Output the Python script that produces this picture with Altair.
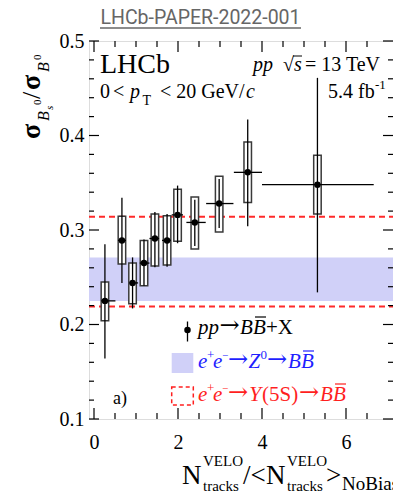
import altair as alt
import pandas as pd

# ---------------- data ----------------
x_center = [0.26, 0.665, 0.918, 1.19, 1.45, 1.74, 1.99, 2.40, 2.98, 3.66, 5.32]
x_low    = [0.17, 0.57, 0.84, 1.09, 1.32, 1.62, 1.85, 2.20, 2.67, 3.33, 4.00]
x_high   = [0.51, 0.76, 1.05, 1.32, 1.55, 1.83, 2.12, 2.66, 3.32, 4.00, 6.66]
ratio    = [0.225, 0.289, 0.244, 0.265, 0.291, 0.289, 0.316, 0.308, 0.328, 0.361, 0.348]
stat_low  = [0.164, 0.244, 0.217, 0.241, 0.2605, 0.261, 0.286, 0.283, 0.302, 0.304, 0.234]
stat_high = [0.285, 0.334, 0.271, 0.290, 0.319, 0.317, 0.347, 0.332, 0.354, 0.417, 0.461]
syst_low  = [0.204, 0.264, 0.222, 0.241, 0.262, 0.263, 0.288, 0.280, 0.298, 0.329, 0.317]
syst_high = [0.245, 0.3145, 0.265, 0.289, 0.317, 0.315, 0.343, 0.335, 0.357, 0.393, 0.379]

z0_band = [0.225, 0.271]          # e+e- -> Z0 -> BB band
y5s_lines = [0.219, 0.314]        # e+e- -> Y(5S) -> BB band edges

x_domain = [0, 7]
y_domain = [0.1, 0.5]
x_tick_labels = [0, 2, 4, 6]
x_ticks_major = [0, 2, 4, 6]
x_ticks_minor = [0.5, 1, 1.5, 2.5, 3, 3.5, 4.5, 5, 5.5, 6.5]
y_tick_labels = [0.1, 0.2, 0.3, 0.4, 0.5]
y_ticks_major = [0.1, 0.2, 0.3, 0.4, 0.5]
y_ticks_minor = [0.12, 0.14, 0.16, 0.18, 0.22, 0.24, 0.26, 0.28, 0.32, 0.34,
                 0.36, 0.38, 0.42, 0.44, 0.46, 0.48]

# ---------------- layout ----------------
W, H = 304, 378
X0, Y0 = 89, 41           # page position of plot origin
SERIF = "Liberation Serif"
ARROWFONT = "DejaVu Serif"

df = pd.DataFrame(dict(x=x_center, xl=x_low, xh=x_high, y=ratio,
                       sl=stat_low, sh=stat_high, yl=syst_low, yh=syst_high))
one = pd.DataFrame({"d": [0]})

xs = alt.Scale(domain=x_domain, nice=False, zero=False)
ys = alt.Scale(domain=y_domain, nice=False, zero=False)

xaxis = alt.Axis(values=x_tick_labels, format="d", labelFont=SERIF, labelFontSize=20,
                 labelColor="black", ticks=False, tickSize=0, domain=False, grid=False,
                 labelPadding=13, title=None)
yaxis = alt.Axis(values=y_tick_labels, format=".1f", labelFont=SERIF, labelFontSize=20,
                 labelColor="black", ticks=False, tickSize=0, domain=False, grid=False,
                 labelPadding=5, title=None)

BANDCOL = "#d0d0f8"
band = alt.Chart(pd.DataFrame({"lo": [z0_band[0]], "hi": [z0_band[1]]})).mark_rect(
    color=BANDCOL).encode(
    x=alt.value(0), x2=alt.value(W),
    y=alt.Y("lo:Q", scale=ys, axis=yaxis), y2="hi:Q")

red = alt.Chart(pd.DataFrame({"v": y5s_lines})).mark_rule(
    color="#ff2a2a", strokeWidth=2, strokeDash=[6, 4]).encode(
    x=alt.value(0), x2=alt.value(W), y=alt.Y("v:Q", scale=ys))

boxes = alt.Chart(df).mark_bar(size=7.5, fill="white", stroke="#3a3a3a",
                                strokeWidth=1.5).encode(
    x=alt.X("x:Q", scale=xs, axis=xaxis), y=alt.Y("yl:Q", scale=ys), y2="yh:Q")

xerr = alt.Chart(df).mark_rule(color="black", strokeWidth=1.3).encode(
    x=alt.X("xl:Q", scale=xs), x2="xh:Q", y=alt.Y("y:Q", scale=ys))

serr = alt.Chart(df).mark_rule(color="black", strokeWidth=1.3).encode(
    x=alt.X("x:Q", scale=xs), y=alt.Y("sl:Q", scale=ys), y2="sh:Q")

pts = alt.Chart(df).mark_circle(size=42, color="black", opacity=1).encode(
    x=alt.X("x:Q", scale=xs), y=alt.Y("y:Q", scale=ys))

# inward ticks on all four sides
def xticks(vals, ln):
    d = pd.DataFrame({"v": vals})
    b = alt.Chart(d).mark_rule(color="black", strokeWidth=1.2).encode(
        x=alt.X("v:Q", scale=xs), y=alt.value(H), y2=alt.value(H - ln))
    t = alt.Chart(d).mark_rule(color="black", strokeWidth=1.2).encode(
        x=alt.X("v:Q", scale=xs), y=alt.value(0), y2=alt.value(ln))
    return [b, t]

def yticks(vals, ln):
    d = pd.DataFrame({"v": vals})
    l = alt.Chart(d).mark_rule(color="black", strokeWidth=1.2).encode(
        y=alt.Y("v:Q", scale=ys), x=alt.value(0), x2=alt.value(ln))
    r = alt.Chart(d).mark_rule(color="black", strokeWidth=1.2).encode(
        y=alt.Y("v:Q", scale=ys), x=alt.value(W), x2=alt.value(W - ln))
    return [l, r]

ticks = xticks(x_ticks_major, 11) + xticks(x_ticks_minor, 6) + \
        yticks(y_ticks_major, 10) + yticks(y_ticks_minor, 5)

# text helpers (page coordinates)
def txt(s, px, py, size=20, style="normal", color="black", angle=0, font=SERIF,
        align="left", weight="normal"):
    props = dict(text=s, font=font, fontSize=size, fontStyle=style, color=color,
                 align=align, baseline="alphabetic", fontWeight=weight)
    if angle:
        props["angle"] = angle
    return alt.Chart(one).mark_text(**props).encode(x=alt.value(px - X0), y=alt.value(py - Y0))

def arrow(px, py, color="black"):
    return txt("\u2192", px, py - 1, size=24, color=color, font=ARROWFONT)

def hline(px1, px2, py, color="black", width=1.2, dash=None):
    props = dict(color=color, strokeWidth=width)
    if dash:
        props["strokeDash"] = dash
    return alt.Chart(one).mark_rule(**props).encode(
        x=alt.value(px1 - X0), x2=alt.value(px2 - X0), y=alt.value(py - Y0))

def vline(px, py1, py2, color="black", width=1.3):
    return alt.Chart(one).mark_rule(color=color, strokeWidth=width).encode(
        x=alt.value(px - X0), y=alt.value(py1 - Y0), y2=alt.value(py2 - Y0))

texts = []
# page title
texts += [txt("LHCb-PAPER-2022-001", 200.5, 24, size=19.5, font="Roboto", color="#666666",
              align="center"),
          hline(100, 301, 28, color="#666666", width=1.3)]
# in-plot annotations
texts += [txt("LHCb", 100, 73, size=28),
          txt("0", 100, 98), txt("<", 113, 98), txt("p", 130, 98, style="italic"),
          txt("T", 142.5, 105, size=14), txt("< 20 GeV/", 160, 98),
          txt("c", 246, 98, style="italic"),
          txt("pp", 253, 71, style="italic"), txt("\u221a", 283, 71),
          txt("s", 294, 71, style="italic"), hline(293, 302, 56, width=1),
          txt("= 13 TeV", 305, 71),
          txt("5.4 fb", 328, 98), txt("-1", 375, 89, size=13),
          txt("a)", 113, 404, size=18)]
# legend
LS = 21
texts += [vline(187.5, 321.5, 341.5),
          alt.Chart(one).mark_circle(size=42, color="black", opacity=1).encode(
              x=alt.value(187.5 - X0), y=alt.value(330 - Y0)),
          txt("pp", 198, 334, size=LS, style="italic"), arrow(219.5, 334),
          txt("B", 240, 334, size=LS, style="italic"), txt("B", 253, 334, size=LS, style="italic"),
          hline(255, 266, 317, width=1.2), txt("+X", 266, 334, size=LS)]
BL = "#1f1fff"
texts += [alt.Chart(one).mark_rect(color=BANDCOL).encode(
              x=alt.value(171.7 - X0), x2=alt.value(193.3 - X0),
              y=alt.value(353 - Y0), y2=alt.value(373 - Y0)),
          txt("e", 198, 368, size=LS, style="italic", color=BL),
          txt("+", 207, 359, size=13, color=BL),
          txt("e", 213, 368, size=LS, style="italic", color=BL),
          txt("\u2212", 222, 359, size=11, color=BL),
          arrow(228, 368, color=BL), txt("Z", 248.5, 368, size=LS, style="italic", color=BL),
          txt("0", 260.5, 359, size=13, color=BL), arrow(267, 368, color=BL),
          txt("B", 288, 368, size=LS, style="italic", color=BL),
          txt("B", 301, 368, size=LS, style="italic", color=BL),
          hline(303, 314, 351, color=BL, width=1.2)]
RD = "#ff1f1f"
texts += [alt.Chart(one).mark_rect(fill=None, stroke=RD, strokeWidth=1.5,
                                   strokeDash=[4, 3]).encode(
              x=alt.value(171.7 - X0), x2=alt.value(193.3 - X0),
              y=alt.value(387 - Y0), y2=alt.value(405 - Y0)),
          txt("e", 198, 401, size=LS, style="italic", color=RD),
          txt("+", 207, 392, size=13, color=RD),
          txt("e", 213, 401, size=LS, style="italic", color=RD),
          txt("\u2212", 222, 392, size=11, color=RD),
          arrow(228, 401, color=RD), txt("Y", 249, 401, style="italic", color=RD, size=22),
          txt("(5S)", 262, 401, size=LS, color=RD), arrow(299, 401, color=RD),
          txt("B", 320, 401, size=LS, style="italic", color=RD),
          txt("B", 333, 401, size=LS, style="italic", color=RD),
          hline(335, 346, 384, color=RD, width=1.2)]
# y-axis title (rotated)
texts += [txt("\u03c3", 40, 139, size=28, angle=270, weight="bold"),
          txt("B", 49, 121, size=16, style="italic", angle=270),
          txt("s", 52.5, 110, size=11, style="italic", angle=270),
          txt("0", 41, 105, size=11, angle=270),
          txt("/", 40, 99, size=26, angle=270),
          txt("\u03c3", 40, 90, size=28, angle=270, weight="bold"),
          txt("B", 49, 72, size=16, style="italic", angle=270),
          txt("0", 41, 60, size=11, angle=270)]
# x-axis title
texts += [txt("N", 182, 484, size=27), txt("VELO", 203, 466, size=15),
          txt("tracks", 203, 491, size=15), txt("/<", 243, 484, size=27),
          txt("N", 266, 484, size=27), txt("VELO", 287, 466, size=15),
          txt("tracks", 287, 491, size=15), txt(">", 326, 484, size=27),
          txt("NoBias", 342, 490, size=19)]

chart = alt.layer(band, red, boxes, xerr, serr, pts, *ticks, *texts).properties(
    width=W, height=H,
    autosize=alt.AutoSizeParams(type="none"),
    padding={"left": 81, "top": 33, "right": 0, "bottom": 90},
).configure_view(stroke="black", strokeWidth=1.5).configure(background="white")

chart.save("out.html", embed_options={"renderer": "svg", "actions": False})
